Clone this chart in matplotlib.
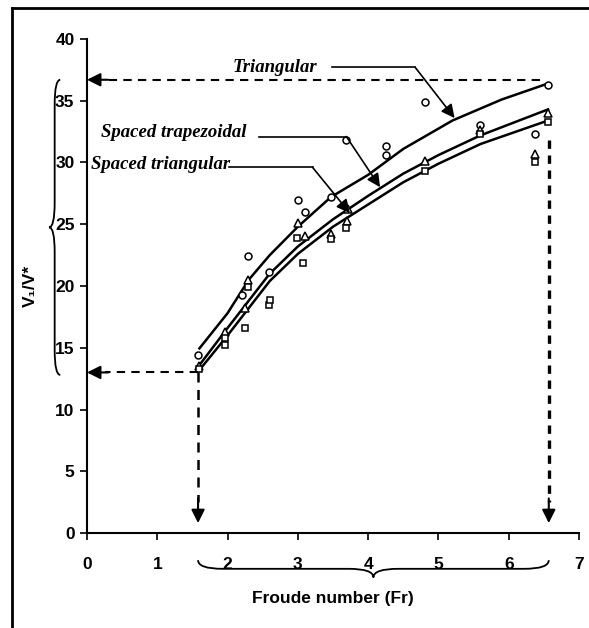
import matplotlib
matplotlib.use("Agg")
import matplotlib.pyplot as plt
from matplotlib.path import Path
from matplotlib.patches import PathPatch
from matplotlib.lines import Line2D

# fitted curves
fr_tri_curve = [1.6, 2.0, 2.3, 2.6, 3.0, 3.47, 4.0, 4.5, 5.2, 5.9, 6.56]
v_tri_curve = [14.95, 17.8, 20.5, 22.5, 24.8, 27.2, 29.0, 31.1, 33.4, 35.1, 36.4]

fr_sp_curve = [1.6, 2.0, 2.3, 2.6, 3.0, 3.5, 4.0, 4.5, 5.0, 5.6, 6.56]
v_trap_curve = [13.6, 16.6, 18.8, 21.0, 23.2, 25.4, 27.3, 29.1, 30.6, 32.2, 34.3]
v_sptri_curve = [13.2, 16.0, 18.2, 20.4, 22.6, 24.8, 26.6, 28.4, 29.9, 31.5, 33.4]

# measured points
fr_tri = [1.58, 2.2, 2.29, 2.59, 3.0, 3.1, 3.47, 3.69, 4.26, 4.26, 4.81, 5.59, 6.37, 6.56]
v_tri = [14.4, 19.3, 22.4, 21.1, 27.0, 26.0, 27.2, 31.8, 31.3, 30.6, 34.9, 33.0, 32.3, 36.3]

fr_trap = [1.6, 1.97, 2.25, 2.29, 3.0, 3.1, 3.47, 3.72, 3.7, 4.81, 5.59, 6.37, 6.56]
v_trap = [13.5, 16.3, 18.2, 20.5, 25.1, 24.05, 24.2, 26.2, 25.3, 30.1, 32.6, 30.7, 34.0]

fr_sptri = [1.6, 1.97, 1.97, 2.25, 2.29, 2.59, 2.6, 2.99, 3.08, 3.47, 3.69, 4.81, 5.59, 6.37, 6.56]
v_sptri = [13.3, 15.8, 15.2, 16.6, 19.9, 18.5, 18.9, 23.9, 21.9, 23.8, 24.7, 29.3, 32.3, 30.0, 33.3]

fr_min, fr_max = 1.58, 6.57
v_min, v_max = 13.0, 36.7

xticks = [0, 1, 2, 3, 4, 5, 6, 7]
yticks = [0, 5, 10, 15, 20, 25, 30, 35, 40]

sans = ['Liberation Sans Narrow', 'Liberation Sans', 'DejaVu Sans']
serif = ['Liberation Serif', 'DejaVu Serif']


def brace(ax, a, b, pos, depth, r_along, vertical=False):
    """curly brace between a and b, bulging by depth (sign gives side)"""
    m = (a + b) / 2.0
    h = depth / 2.0
    pts = [(a, pos), (a, pos + h), (a + r_along, pos + h),
           (m - r_along, pos + h), (m, pos + h), (m, pos + depth),
           (m, pos + h), (m + r_along, pos + h),
           (b - r_along, pos + h), (b, pos + h), (b, pos)]
    codes = [Path.MOVETO, Path.CURVE3, Path.CURVE3,
             Path.LINETO, Path.CURVE3, Path.CURVE3,
             Path.CURVE3, Path.CURVE3,
             Path.LINETO, Path.CURVE3, Path.CURVE3]
    if vertical:
        pts = [(p[1], p[0]) for p in pts]
    patch = PathPatch(Path(pts, codes), fc='none', ec='black', lw=1.3,
                      clip_on=False, transform=ax.transData)
    ax.add_patch(patch)


def arrow_head(ax, tip, tail):
    ax.annotate('', xy=tip, xytext=tail,
                arrowprops=dict(arrowstyle='-|>', color='black', lw=1.5,
                                mutation_scale=20, shrinkA=0, shrinkB=0),
                annotation_clip=False)


fig = plt.figure(figsize=(5.89, 6.28), dpi=100)
ax = fig.add_axes([87 / 589, 1 - 533 / 628, (579 - 87) / 589, (533 - 39) / 628])

ax.plot(fr_tri_curve, v_tri_curve, color='black', lw=1.8)
ax.plot(fr_sp_curve, v_trap_curve, color='black', lw=1.8)
ax.plot(fr_sp_curve, v_sptri_curve, color='black', lw=1.8)

ax.plot(fr_tri, v_tri, 'o', ms=5, mfc='white', mec='black', mew=1.1)
ax.plot(fr_trap, v_trap, '^', ms=5.5, mfc='white', mec='black', mew=1.1)
ax.plot(fr_sptri, v_sptri, 's', ms=4.5, mfc='white', mec='black', mew=1.1)

# dashed reading lines
ax.plot([6.45, 0.25], [v_max, v_max], color='black', lw=1.5, ls=(0, (4, 3)))
arrow_head(ax, (0, v_max), (0.3, v_max))
ax.plot([fr_min, 0.25], [v_min, v_min], color='black', lw=1.5, ls=(0, (4, 3)))
arrow_head(ax, (0, v_min), (0.3, v_min))
ax.plot([fr_min, fr_min], [v_min, 2.5], color='black', lw=1.8, ls=(0, (4, 3)))
arrow_head(ax, (fr_min, 0.8), (fr_min, 2.8))
ax.plot([fr_max, fr_max], [31.8, 2.5], color='black', lw=2.4, ls=(0, (2.5, 2)))
arrow_head(ax, (fr_max, 0.8), (fr_max, 2.8))

# curve labels with leaders
lab_kw = dict(family=serif, style='italic', weight='bold', fontsize=13.5)
ax.text(2.67, 37.7, 'Triangular', ha='center', va='center', **lab_kw)
ax.plot([3.49, 4.67], [37.7, 37.7], color='black', lw=1.2)
ax.annotate('', xy=(5.23, 33.6), xytext=(4.67, 37.7),
            arrowprops=dict(arrowstyle='-|>', color='black', lw=1.2,
                            mutation_scale=20, shrinkA=0, shrinkB=0))

ax.text(1.24, 32.4, 'Spaced trapezoidal', ha='center', va='center', **lab_kw)
ax.plot([2.45, 3.69], [32.1, 32.1], color='black', lw=1.2)
ax.annotate('', xy=(4.17, 28.0), xytext=(3.69, 32.1),
            arrowprops=dict(arrowstyle='-|>', color='black', lw=1.2,
                            mutation_scale=20, shrinkA=0, shrinkB=0))

ax.text(1.04, 29.8, 'Spaced triangular', ha='center', va='center', **lab_kw)
ax.plot([2.02, 3.21], [29.6, 29.6], color='black', lw=1.2)
ax.annotate('', xy=(3.74, 25.9), xytext=(3.21, 29.6),
            arrowprops=dict(arrowstyle='-|>', color='black', lw=1.2,
                            mutation_scale=20, shrinkA=0, shrinkB=0))

# braces marking the ranges
brace(ax, fr_min, fr_max, -2.2, -1.4, 0.35, vertical=False)
brace(ax, v_min - 0.2, v_max, -0.38, -0.16, 2.0, vertical=True)

ax.set_xlim(0, 7)
ax.set_ylim(0, 40)
ax.set_xticks(xticks)
ax.set_yticks(yticks)
for lab in ax.get_xticklabels() + ax.get_yticklabels():
    lab.set_family(sans)
    lab.set_fontweight('bold')
    lab.set_fontsize(12.5)
ax.tick_params(direction='out', length=5, width=1.2, pad=4)
ax.tick_params(axis='x', pad=12)
ax.spines['top'].set_visible(False)
ax.spines['right'].set_visible(False)
ax.spines['left'].set_linewidth(1.5)
ax.spines['bottom'].set_linewidth(1.5)

ax.set_xlabel('Froude number (Fr)', family=sans, fontweight='bold',
              fontsize=12.5, labelpad=14)
ax.set_ylabel('V\u2081/V*', family=sans, fontweight='bold', fontsize=12.5)
ax.yaxis.set_label_coords((38 - 87) / 492, 0.5)

# scan frame
fig.add_artist(Line2D([12 / 589, 12 / 589], [0, 1 - 8 / 628], color='black', lw=2))
fig.add_artist(Line2D([12 / 589, 1], [1 - 8 / 628, 1 - 8 / 628], color='black', lw=2))

fig.savefig('out.png', dpi=100)
